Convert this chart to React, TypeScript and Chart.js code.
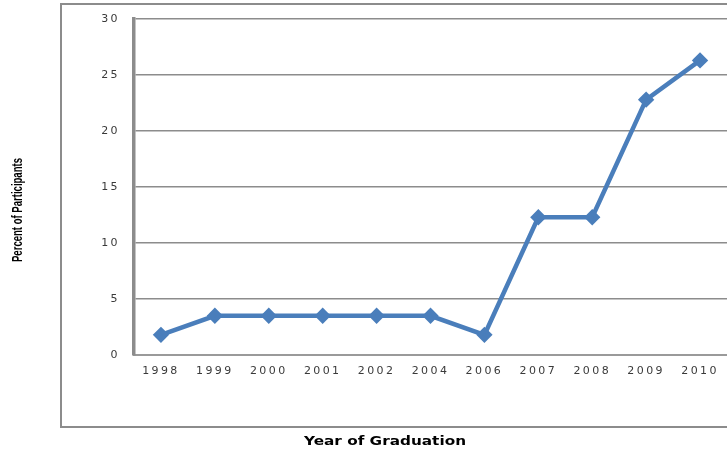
import React, { useEffect, useRef } from "react";
import { Chart, registerables } from "chart.js";

Chart.register(...registerables);

const years = ["1998", "1999", "2000", "2001", "2002", "2004", "2006", "2007", "2008", "2009", "2010"];
const percentOfParticipants = [1.8, 3.5, 3.5, 3.5, 3.5, 3.5, 1.8, 12.3, 12.3, 22.8, 26.3];
const yTitle = "Percent of Participants";
const xTitle = "Year of Graduation";

const framePlugin = {
  id: "frame",
  beforeDraw(chart: any) {
    const ctx = chart.ctx;
    ctx.save();
    ctx.strokeStyle = "#8c8c8c";
    ctx.lineWidth = 2;
    ctx.strokeRect(61, 4, 720, 423);
    ctx.restore();
    (ctx as any).letterSpacing = "2.4px";
  },
  afterDraw(chart: any) {
    const ctx = chart.ctx;
    ctx.save();
    (ctx as any).letterSpacing = "0px";
    ctx.fillStyle = "#000";
    // x title
    ctx.font = "bold 12.5px 'DejaVu Sans'";
    let w = ctx.measureText(xTitle).width;
    ctx.save();
    ctx.translate(304, 445);
    ctx.scale(162 / w, 1);
    ctx.textBaseline = "alphabetic";
    ctx.textAlign = "left";
    ctx.fillText(xTitle, 0, 0);
    ctx.restore();
    // y title
    ctx.font = "bold 14px 'Liberation Sans'";
    w = ctx.measureText(yTitle).width;
    ctx.save();
    ctx.translate(18.5, 210);
    ctx.rotate(-Math.PI / 2);
    ctx.scale(104 / w, 1);
    ctx.textAlign = "center";
    ctx.textBaseline = "middle";
    ctx.fillText(yTitle, 0, 0);
    ctx.restore();
    ctx.restore();
  },
};

export default function App() {
  const ref = useRef<HTMLCanvasElement>(null);
  useEffect(() => {
    if (!ref.current) return;
    const chart = new Chart(ref.current, {
      type: "line",
      data: {
        labels: years,
        datasets: [
          {
            data: percentOfParticipants,
            borderColor: "#4a7ebb",
            backgroundColor: "#4a7ebb",
            borderWidth: 4.5,
            tension: 0,
            pointStyle: "rectRot",
            pointRadius: 5,
            pointHoverRadius: 5,
            clip: false,
          },
        ],
      },
      options: {
        animation: false,
        responsive: false,
        maintainAspectRatio: false,
        events: [],
        layout: { autoPadding: false, padding: { left: 0, right: -4, top: 19, bottom: 0 } },
        plugins: { legend: { display: false }, tooltip: { enabled: false } },
        scales: {
          x: {
            offset: true,
            afterFit: (s: any) => {
              s.height = 96;
              s.paddingLeft = 0;
              s.paddingRight = 0;
            },
            grid: { display: false, drawTicks: false },
            border: { display: true, color: "#9a9a9a", width: 2 },
            ticks: { color: "#3a3a3a", font: { family: "'DejaVu Sans'", size: 11 }, padding: 10, maxRotation: 0, autoSkip: false },
          },
          y: {
            min: 0,
            max: 30,
            afterFit: (s: any) => {
              s.width = 134;
              s.paddingTop = 0;
              s.paddingBottom = 0;
            },
            grid: { color: "#8c8c8c", lineWidth: 1.6, drawTicks: false },
            border: { display: true, color: "#8c8c8c", width: 3.5 },
            ticks: { stepSize: 5, color: "#3a3a3a", font: { family: "'DejaVu Sans'", size: 11 }, padding: 14 },
          },
        },
      },
      plugins: [framePlugin],
    } as any);
    return () => chart.destroy();
  }, []);
  return (
    <div style={{ position: "fixed", left: 0, top: 0, width: 727, height: 451, background: "#fff" }}>
      <canvas ref={ref} width={727} height={451} style={{ width: 727, height: 451 }} />
    </div>
  );
}
